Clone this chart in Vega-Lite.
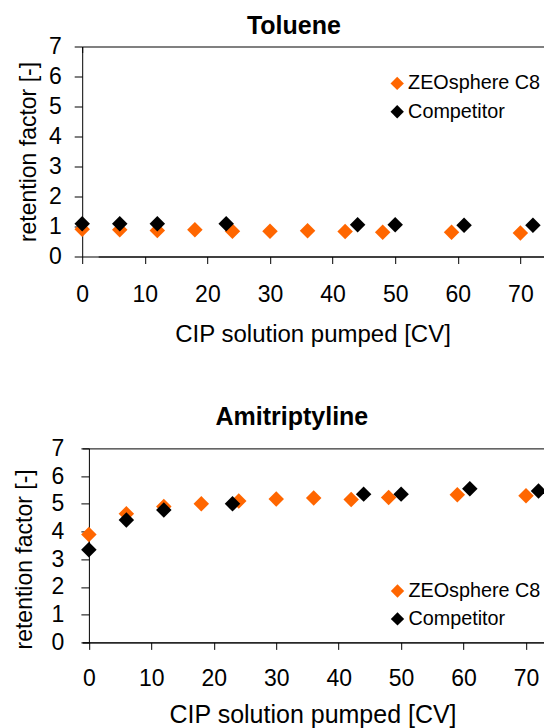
{
  "$schema": "https://vega.github.io/schema/vega-lite/v6.json",
  "padding": {"left": 12.2, "top": 13.5, "right": 0, "bottom": 0},
  "background": "white",
  "datasets": {
    "toluene": [
      {"series": "ZEOsphere C8", "cv": 0, "k": 0.91},
      {"series": "ZEOsphere C8", "cv": 6, "k": 0.89},
      {"series": "ZEOsphere C8", "cv": 12, "k": 0.87},
      {"series": "ZEOsphere C8", "cv": 18, "k": 0.89},
      {"series": "ZEOsphere C8", "cv": 24, "k": 0.84},
      {"series": "ZEOsphere C8", "cv": 30, "k": 0.84},
      {"series": "ZEOsphere C8", "cv": 36, "k": 0.86},
      {"series": "ZEOsphere C8", "cv": 42, "k": 0.83},
      {"series": "ZEOsphere C8", "cv": 48, "k": 0.81},
      {"series": "ZEOsphere C8", "cv": 59, "k": 0.81},
      {"series": "ZEOsphere C8", "cv": 70, "k": 0.78},
      {"series": "Competitor", "cv": 0, "k": 1.09},
      {"series": "Competitor", "cv": 6, "k": 1.09},
      {"series": "Competitor", "cv": 12, "k": 1.09},
      {"series": "Competitor", "cv": 23, "k": 1.09},
      {"series": "Competitor", "cv": 44, "k": 1.06},
      {"series": "Competitor", "cv": 50, "k": 1.06},
      {"series": "Competitor", "cv": 61, "k": 1.04},
      {"series": "Competitor", "cv": 72, "k": 1.04}
    ],
    "amitriptyline": [
      {"series": "ZEOsphere C8", "cv": 0, "k": 3.89},
      {"series": "ZEOsphere C8", "cv": 6, "k": 4.64},
      {"series": "ZEOsphere C8", "cv": 12, "k": 4.9},
      {"series": "ZEOsphere C8", "cv": 18, "k": 5.0},
      {"series": "ZEOsphere C8", "cv": 24, "k": 5.1},
      {"series": "ZEOsphere C8", "cv": 30, "k": 5.17},
      {"series": "ZEOsphere C8", "cv": 36, "k": 5.21},
      {"series": "ZEOsphere C8", "cv": 42, "k": 5.16},
      {"series": "ZEOsphere C8", "cv": 48, "k": 5.23},
      {"series": "ZEOsphere C8", "cv": 59, "k": 5.33},
      {"series": "ZEOsphere C8", "cv": 70, "k": 5.29},
      {"series": "Competitor", "cv": 0, "k": 3.34},
      {"series": "Competitor", "cv": 6, "k": 4.42},
      {"series": "Competitor", "cv": 12, "k": 4.78},
      {"series": "Competitor", "cv": 23, "k": 5.0},
      {"series": "Competitor", "cv": 44, "k": 5.35},
      {"series": "Competitor", "cv": 50, "k": 5.35},
      {"series": "Competitor", "cv": 61, "k": 5.54},
      {"series": "Competitor", "cv": 72, "k": 5.46}
    ]
  },
  "columns": 1,
  "align": "none",
  "spacing": 56.9,
  "resolve": {"scale": {"color": "independent"}, "legend": {"color": "independent"}},
  "concat": [
    {
      "data": {"name": "toluene"},
      "width": 463,
      "height": 210,
      "title": {"text": "Toluene", "fontSize": 25, "fontWeight": "bold", "frame": "group", "dx": -19.8, "offset": -3.9},
      "mark": {"type": "point", "shape": "diamond", "filled": true, "size": 240, "opacity": 1},
      "encoding": {
        "x": {"field": "cv", "type": "quantitative",
              "scale": {"domain": [0, 73.96], "nice": false, "zero": false},
              "axis": {"values": [0, 10, 20, 30, 40, 50, 60, 70], "title": "CIP solution pumped [CV]", "titleX": 230.35, "labelFontSize": 23, "titleFontSize": 24, "tickSize": 7, "labelPadding": 19.5, "titlePadding": 16.2, "labelFlush": false, "grid": false}},
        "y": {"field": "k", "type": "quantitative",
              "scale": {"domain": [0, 7], "nice": false},
              "axis": {"values": [0, 1, 2, 3, 4, 5, 6, 7], "title": "retention factor [-]", "labelFontSize": 23, "titleFontSize": 23, "tickSize": 8, "labelPadding": 13, "titlePadding": 8, "grid": false}},
        "color": {"field": "series", "type": "nominal",
                  "scale": {"domain": ["ZEOsphere C8", "Competitor"], "range": ["#FF6600", "#000000"]},
                  "legend": {"title": null, "orient": "none", "legendX": 305.1, "legendY": 27, "symbolType": "diamond", "symbolSize": 178, "symbolOpacity": 1, "labelFontSize": 19.8, "labelOffset": 1, "rowPadding": 7.3, "padding": 0}}
      }
    },
    {
      "data": {"name": "amitriptyline"},
      "width": 463,
      "height": 194,
      "title": {"text": "Amitriptyline", "fontSize": 25, "fontWeight": "bold", "frame": "group", "dx": -21.8, "offset": 7.5},
      "mark": {"type": "point", "shape": "diamond", "filled": true, "size": 240, "opacity": 1},
      "encoding": {
        "x": {"field": "cv", "type": "quantitative",
              "scale": {"domain": [-1.07, 73.07], "nice": false, "zero": false},
              "axis": {"values": [0, 10, 20, 30, 40, 50, 60, 70], "title": "CIP solution pumped [CV]", "titleX": 230.35, "labelFontSize": 23, "titleFontSize": 25, "tickSize": 7, "labelPadding": 18.5, "titlePadding": 11.2, "labelFlush": false, "grid": false}},
        "y": {"field": "k", "type": "quantitative",
              "scale": {"domain": [0, 7], "nice": false},
              "axis": {"values": [0, 1, 2, 3, 4, 5, 6, 7], "title": "retention factor [-]", "labelFontSize": 23, "titleFontSize": 23, "tickSize": 8, "labelPadding": 17, "titlePadding": 15, "titleY": 110.5, "offset": -6.7, "grid": false}},
        "color": {"field": "series", "type": "nominal",
                  "scale": {"domain": ["ZEOsphere C8", "Competitor"], "range": ["#FF6600", "#000000"]},
                  "legend": {"title": null, "orient": "none", "legendX": 305.4, "legendY": 132.7, "symbolType": "diamond", "symbolSize": 178, "symbolOpacity": 1, "labelFontSize": 19.8, "labelOffset": 1, "rowPadding": 6.9, "padding": 0}}
      }
    }
  ],
  "config": {
    "font": "Liberation Sans",
    "view": {"stroke": "#000000", "strokeWidth": 1, "strokeOpacity": 1, "strokeDash": [1120, 220]},
    "title": {"color": "black", "font": "Liberation Sans"},
    "axis": {"domainColor": "black", "tickColor": "black", "labelColor": "black", "titleColor": "black", "titleFontWeight": "normal", "labelFont": "Liberation Sans", "titleFont": "Liberation Sans", "domainWidth": 1, "tickWidth": 1},
    "legend": {"labelColor": "black", "labelFont": "Liberation Sans"}
  }
}
